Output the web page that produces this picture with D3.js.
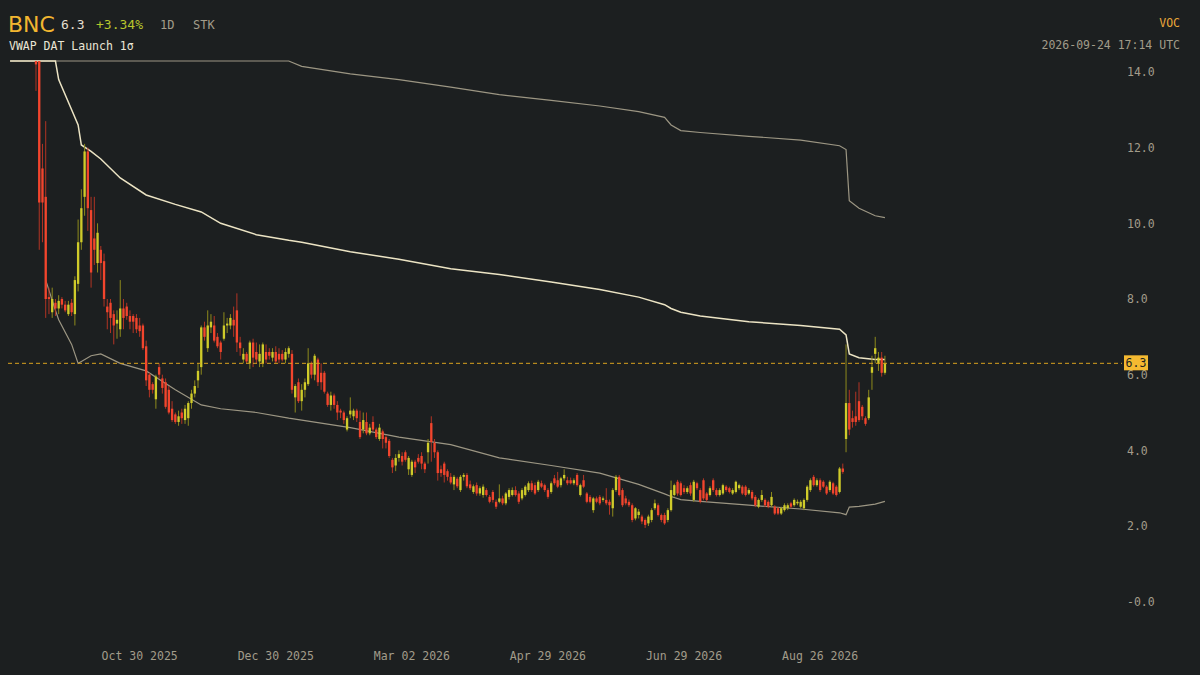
<!DOCTYPE html>
<html>
<head>
<meta charset="utf-8">
<script src="https://cdn.jsdelivr.net/npm/d3@7"></script>
<style>
  body { margin: 0; background: #1c1f20; }
  svg { display: block; font-family: "DejaVu Sans Mono", monospace; }
</style>
</head>
<body>
<svg id="chart" width="1200" height="675"></svg>
<script>
//DATA//
var symbol = "BNC", lastPrice = "6.3", change = "+3.34%", interval = "1D", kind = "STK"
var study = "VWAP DAT Launch 1\u03c3", exchange = "VOC", stamp = "2026-09-24 17:14 UTC"

// [open, high, low, close]
var barsLaunch = [
  [32,35,29,30],[30,31,26,27],[27,28,24,25],[25,26,22,23],[23,24,20,21],[21,22,18.5,19],
  [19,20,17,17.5],[17.5,18,15.5,16],[16,16.5,13.5,14.2],[14.5,15,9.3,10.55],[11.45,12.1,9.5,10.55],
  [10.7,12.7,7.5,8.0],[8.05,8.3,7.6,8.0],[7.65,8.3,7.5,8.0],[7.9,8.0,7.55,7.75],[7.75,8.1,7.6,7.95],
  [8.0,8.05,7.75,7.85],[7.85,7.95,7.65,7.7],[7.6,7.95,7.55,7.85],[7.9,8.0,7.55,7.65],[7.6,8.6,7.3,8.5],
  [8.4,10.1,8.2,9.5],[9.5,10.9,9.3,10.4],[10.7,12.1,10.2,11.9],[11.9,12.0,9.8,10.4],[10.35,10.7,8.3,8.7],
  [9.6,10.7,8.9,9.3],[8.95,10.0,8.7,9.75],[9.3,9.4,8.5,8.95],[9.0,9.2,7.8,8.0],[7.8,8.0,7.2,7.65],
  [7.9,8.0,7.1,7.5],[7.6,7.7,6.8,7.3],[7.35,7.7,6.95,7.45],[7.2,8.5,7.0,7.75],[7.75,8.0,7.2,7.5],
  [7.8,7.9,7.45,7.55],[7.55,7.7,7.2,7.4],[7.55,7.6,7.1,7.4],[7.5,7.6,7.1,7.2],[7.3,7.5,7.0,7.15],
  [7.3,7.35,6.65,6.7],[6.75,6.9,5.7,5.85],[6.0,6.05,5.4,5.6],[5.75,5.8,5.5,5.6],[5.35,6.0,5.1,5.95],
  [6.2,6.3,5.9,6.0],[5.9,6.0,5.5,5.65],[5.8,5.9,5.1,5.15],[5.6,5.7,4.95,5.0],[5.1,5.3,4.75,4.8],
  [4.95,5.0,4.7,4.75],[4.75,5.05,4.65,4.9],[5.0,5.1,4.7,4.85],[4.8,5.2,4.7,5.1],[4.85,5.3,4.65,5.25],
  [5.25,5.6,5.1,5.5],[5.5,5.85,5.4,5.7],[5.85,6.3,5.65,6.1],[6.2,7.3,6.0,7.25],[7.25,7.4,6.9,7.0],
  [6.7,7.7,6.6,7.3],[7.25,7.6,7.1,7.4],[7.3,7.55,6.85,6.9],[7.0,7.1,6.7,6.75],[6.85,6.9,6.4,6.6],
  [6.95,7.65,6.9,7.3],[7.3,7.5,7.1,7.35],[7.3,7.6,7.2,7.5],[7.45,7.8,7.0,7.3],[7.7,8.15,6.6,6.85],
  [6.85,7.0,6.5,6.7],[6.4,6.7,6.3,6.55],[6.55,6.6,6.3,6.35],[6.3,6.9,6.15,6.85],[6.85,6.95,6.2,6.45],
  [6.6,6.85,6.3,6.4],[6.35,6.8,6.2,6.55],[6.3,6.85,6.2,6.8],[6.6,6.8,6.3,6.4],[6.6,6.7,6.4,6.5],
  [6.45,6.7,6.35,6.6],[6.6,6.75,6.3,6.35],[6.55,6.7,6.3,6.4],[6.55,6.65,6.35,6.4],[6.4,6.7,6.3,6.6],
  [6.55,6.75,6.45,6.7],[6.55,6.65,5.5,5.6]
]
var barsSlide = [
  [5.4,5.75,5.0,5.7],[5.8,5.9,5.25,5.3],[5.3,5.75,5.05,5.6],[5.6,5.9,5.4,5.8],[5.75,6.7,5.7,6.3],
  [6.3,6.35,5.9,6.0],[6.0,6.55,5.85,6.5],[6.4,6.45,5.7,5.8],[6.05,6.3,5.6,5.8],[6.05,6.1,5.5,5.55],
  [5.5,5.55,5.15,5.2],[5.2,5.55,5.05,5.45],[5.45,5.5,5.1,5.2],[5.2,5.3,4.8,5.0],[5.05,5.1,4.85,5.0],
  [5.0,5.05,4.7,4.8],[4.55,4.9,4.5,4.85],[4.95,5.4,4.85,5.05],[4.9,5.1,4.8,5.05],[5.05,5.1,4.75,4.85],
  [4.75,5.05,4.3,4.35],[4.55,5.0,4.45,4.8],[4.75,5.0,4.4,4.45],[4.45,4.7,4.4,4.6],[4.75,4.9,4.5,4.55],
  [4.55,4.6,4.3,4.35],[4.3,4.7,4.25,4.6],[4.5,4.55,4.05,4.3],[4.35,4.4,4.05,4.2],[4.25,4.3,3.8,3.85],
  [3.75,3.8,3.4,3.55],[3.6,3.9,3.45,3.8],[3.8,4.0,3.7,3.9],[3.85,3.95,3.6,3.7],[3.95,4.0,3.7,3.75],
  [3.5,3.85,3.35,3.8],[3.35,3.75,3.3,3.7],[3.7,3.75,3.4,3.55],[3.8,3.9,3.65,3.7],[3.85,3.95,3.5,3.65],
  [3.65,3.7,3.4,3.5],[3.95,4.3,3.65,4.2],[4.72,4.9,3.7,4.22],[4.2,4.3,3.8,3.95],[3.95,4.0,3.2,3.4],
  [3.5,3.6,3.3,3.4],[3.65,3.7,3.15,3.35],[3.45,3.5,3.2,3.3],[3.3,3.4,3.1,3.15],[3.1,3.35,2.95,3.3],
  [3.25,3.3,3.0,3.05],[2.95,3.35,2.9,3.3],[3.3,3.4,3.2,3.35],[3.35,3.4,3.0,3.05],[3.1,3.2,2.95,3.0],
  [2.9,3.1,2.85,3.05]
]
var barsBase = [
  [3.08,3.15,2.8,2.86],[2.86,3.05,2.8,3.0],[2.82,3.1,2.75,3.04],[2.95,3.0,2.78,2.82],[2.77,2.82,2.6,2.64],
  [2.9,2.95,2.62,2.69],[2.64,2.7,2.45,2.51],[2.64,3.1,2.6,2.73],[2.73,2.8,2.55,2.6],[2.6,2.9,2.55,2.86],
  [2.77,3.0,2.7,2.95],[2.82,3.02,2.78,2.95],[2.95,3.05,2.78,2.82],[2.86,2.92,2.58,2.64],[2.73,3.0,2.68,2.95],
  [2.82,3.08,2.78,3.04],[2.95,3.18,2.9,3.13],[3.13,3.2,2.9,2.95],[3.08,3.15,2.82,2.86],[2.95,3.22,2.9,3.17],
  [3.13,3.2,3.0,3.04],[3.08,3.12,2.9,2.95],[2.95,3.0,2.72,2.77],[2.9,3.18,2.85,3.13],[3.26,3.35,3.08,3.13],
  [3.21,3.43,3.0,3.04],[3.08,3.3,3.02,3.26],[3.26,3.5,3.2,3.35],[3.21,3.3,3.08,3.13],[3.21,3.28,3.1,3.13],
  [3.13,3.26,3.08,3.21],[3.35,3.4,3.04,3.08],[2.82,3.12,2.78,3.08],[3.21,3.35,3.0,3.04],[2.86,2.9,2.6,2.64],
  [2.77,2.82,2.6,2.64],[2.42,2.77,2.35,2.73],[2.73,2.78,2.6,2.64],[2.77,2.82,2.55,2.6],[2.69,2.78,2.64,2.73],
  [2.69,3.0,2.55,2.6],[2.64,2.7,2.3,2.55],[2.47,3.0,2.25,2.95],[2.95,3.35,2.9,3.3],[3.3,3.35,2.78,2.82],
  [2.95,3.0,2.5,2.55],[2.73,2.8,2.55,2.6],[2.64,2.7,2.5,2.55],[2.55,2.6,2.1,2.16],[2.2,2.5,2.15,2.47],
  [2.29,2.45,2.2,2.38],[2.25,2.3,2.05,2.12],[2.16,2.2,1.95,2.03],[2.07,2.3,2.0,2.25],[2.16,2.47,2.1,2.42],
  [2.47,2.7,2.42,2.6],[2.55,2.6,2.25,2.29],[2.29,2.33,2.1,2.16],[2.29,2.35,2.03,2.07],[2.16,2.47,2.1,2.42],
  [2.42,3.2,2.38,2.95],[2.82,3.12,2.78,3.08],[3.17,3.22,2.8,2.86],[3.13,3.18,2.78,2.82],[3.0,3.08,2.85,2.9],
  [2.9,3.05,2.85,3.0]
]
var barsSummer = [
  [3.08,3.15,2.8,2.86],[2.69,3.22,2.64,3.17],[3.13,3.17,2.95,3.0],[2.95,3.0,2.6,2.64],[3.21,3.26,2.68,2.73],
  [2.86,2.9,2.64,2.69],[2.82,3.05,2.78,3.0],[3.21,3.26,2.9,2.95],[2.95,3.0,2.78,2.82],[2.82,3.0,2.78,2.95],
  [2.86,3.12,2.82,3.08],[3.04,3.08,2.9,2.95],[3.0,3.04,2.86,2.9],[2.86,3.0,2.82,2.95],[2.9,3.2,2.86,3.17],
  [3.0,3.12,2.95,3.08],[3.04,3.08,2.82,2.86],[3.04,3.08,2.78,2.82],[2.86,3.0,2.82,2.95],[2.9,2.95,2.68,2.73],
  [2.77,2.82,2.5,2.55],[2.51,2.73,2.47,2.69],[2.69,2.95,2.64,2.82],[2.69,2.73,2.5,2.55],[2.64,2.68,2.47,2.51],
  [2.55,2.9,2.5,2.77],[2.51,2.55,2.29,2.33],[2.47,2.5,2.29,2.33],[2.33,2.51,2.29,2.47],[2.42,2.6,2.38,2.55],
  [2.47,2.6,2.42,2.55],[2.6,2.64,2.47,2.51],[2.55,2.73,2.51,2.69],[2.6,2.7,2.55,2.64],[2.51,2.69,2.47,2.64],
  [2.47,2.73,2.42,2.69],[2.69,3.08,2.64,3.04],[2.95,3.26,2.9,3.21],[3.3,3.35,3.04,3.08],[3.08,3.26,3.04,3.21],
  [3.21,3.26,2.9,2.95],[3.17,3.21,3.0,3.04],[3.04,3.08,2.82,2.86],[2.95,3.21,2.9,3.17],[3.13,3.17,2.82,2.86],
  [3.04,3.08,2.78,2.82],[2.9,3.56,2.86,3.52],[3.52,3.65,3.38,3.43]
]
var barsBreakout = [
  [4.3,6.8,3.95,5.25],[5.25,5.6,4.4,4.55],[4.85,5.05,4.6,4.75],[4.9,5.55,4.65,4.75],[5.3,5.8,4.75,4.8],
  [5.15,5.2,4.8,4.9],[4.85,4.9,4.65,4.7],[4.85,5.6,4.8,5.4],[6.05,6.5,5.6,6.2],[6.55,7.0,6.3,6.7],
  [6.3,6.6,6.1,6.45],[6.45,6.6,5.95,6.05],[6.05,6.5,6.0,6.3]
]

// band samples: bar index, value (null = not started)
var bandBars = [0,11,14,15,19,21,22,25,28,34,42,51,59,65,76,86,90,105,120,136,151,167,182,194,202,204,207,213,228,244,256,258,259,262,267,270]
var vwap  = [15,15,14.3,13.8,13.0,12.6,12.07,11.9,11.7,11.2,10.75,10.5,10.3,10.0,9.7,9.55,9.5,9.25,9.05,8.8,8.65,8.45,8.25,8.05,7.85,7.75,7.65,7.55,7.4,7.3,7.2,7.05,6.55,6.45,6.4,6.4]
var upper = [15,15,15,15,15,15,15,15,15,15,15,15,15,15,15,14.3,14.15,13.95,13.8,13.6,13.4,13.25,13.1,12.95,12.8,12.6,12.45,12.4,12.3,12.2,12.05,11.95,10.6,10.4,10.2,10.15]
var lower = [null,8.5,7.7,7.45,6.8,6.3,6.35,6.5,6.55,6.3,6.1,5.6,5.2,5.1,5.0,4.85,4.8,4.6,4.35,4.15,3.8,3.6,3.4,3.1,2.85,2.78,2.7,2.65,2.55,2.45,2.35,2.3,2.5,2.52,2.58,2.65]

var priceTicks = [0,2,4,6,8,10,12,14]
var priceLabels = ["-0.0","2.0","4.0","6.0","8.0","10.0","12.0","14.0"]
// session index of each date label
var dateTickBars = [40,82,124,166,208,250]
var dateLabels = ["Oct 30 2025","Dec 30 2025","Mar 02 2026","Apr 29 2026","Jun 29 2026","Aug 26 2026"]

//BUILD//
var bars = [].concat(barsLaunch, barsSlide, barsBase, barsSummer, barsBreakout)
  .map((b, i) => ({ i: i, o: b[0], h: b[1], l: b[2], c: b[3] }))
var N = bars.length

var svg = d3.select("#chart")
var W = 1200, H = 675
var plotL = 8, plotR = 887, plotT = 61

var x = d3.scaleBand().domain(d3.range(N)).range([plotL, plotR]).padding(0.28)
var cx = i => x(i) + x.bandwidth() / 2
var y = d3.scaleLinear().domain([0, 14.29]).range([601.7, plotT]).clamp(true)

var upCol = "#cfcb2a", upWick = "#8d8a1c", dnCol = "#f2452d", dnWick = "#b23424"
var gray = "#a29c8a"

// price axis (labels only)
var yAxis = d3.axisRight(y).tickValues(priceTicks).tickFormat((d, i) => priceLabels[i]).tickSize(0)
svg.append("g").attr("transform", "translate(1127,0)").call(yAxis)
  .call(g => g.select(".domain").remove())
  .selectAll("text").attr("x", 0).attr("fill", gray).style("font-size", "11.5px")
  .style("font-family", "DejaVu Sans Mono")

// date axis
svg.append("g").selectAll("text").data(dateTickBars).join("text")
  .attr("x", k => cx(k)).attr("y", 660).attr("text-anchor", "middle")
  .attr("fill", gray).style("font-size", "11.5px")
  .text((k, i) => dateLabels[i])

// bands
var line = (vals) => d3.line()
  .defined((d, i) => vals[i] != null)
  .x((d) => cx(d)).y((d, i) => y(vals[i]))(bandBars)

svg.append("path").attr("d", line(upper)).attr("fill", "none").attr("stroke", "#9c9683").attr("stroke-width", 1.2)
svg.append("path").attr("d", line(lower)).attr("fill", "none").attr("stroke", "#9c9683").attr("stroke-width", 1.2)
svg.append("path").attr("d", line(vwap)).attr("fill", "none").attr("stroke", "#ece4c4").attr("stroke-width", 1.5)

// candles
var vis = bars.filter(d => d.l < 14.29)
var cg = svg.append("g")
cg.selectAll("line").data(vis).join("line")
  .attr("x1", d => cx(d.i)).attr("x2", d => cx(d.i))
  .attr("y1", d => y(d.h)).attr("y2", d => y(d.l))
  .attr("stroke", d => d.c >= d.o ? upWick : dnWick).attr("stroke-width", 1)
cg.selectAll("rect").data(vis).join("rect")
  .attr("x", d => x(d.i)).attr("width", x.bandwidth())
  .attr("y", d => y(Math.max(d.o, d.c)))
  .attr("height", d => Math.max(1, y(Math.min(d.o, d.c)) - y(Math.max(d.o, d.c))))
  .attr("fill", d => d.c >= d.o ? upCol : dnCol)

// last price line + tag
var lp = bars[N - 1].c
svg.append("line").attr("x1", plotL).attr("x2", 1122).attr("y1", y(lp)).attr("y2", y(lp))
  .attr("stroke", "#d9a21e").attr("stroke-width", 1).attr("stroke-dasharray", "4,3")
svg.append("rect").attr("x", 1124).attr("y", y(lp) - 8).attr("width", 24).attr("height", 15).attr("fill", "#f4b931")
svg.append("text").attr("x", 1136).attr("y", y(lp) + 3.5).attr("text-anchor", "middle")
  .attr("fill", "#1c1f20").style("font-size", "11.5px").text(lastPrice)

// header
var hd = svg.append("g")
hd.append("text").attr("x", 8).attr("y", 32).attr("fill", "#f2b630").style("font-size", "22px")
  .style("font-family", "DejaVu Sans").text(symbol)
hd.append("text").attr("x", 61).attr("y", 29).attr("fill", "#e4dfcf").style("font-size", "13px").text(lastPrice)
hd.append("text").attr("x", 96).attr("y", 29).attr("fill", "#b7c52c").style("font-size", "13px").text(change)
hd.append("text").attr("x", 160).attr("y", 29).attr("fill", gray).style("font-size", "12px").text(interval)
hd.append("text").attr("x", 193).attr("y", 29).attr("fill", gray).style("font-size", "12px").text(kind)
hd.append("text").attr("x", 9).attr("y", 50).attr("fill", "#ebe6d6").style("font-size", "11.5px").text(study)
hd.append("text").attr("x", 1180).attr("y", 27).attr("text-anchor", "end").attr("fill", "#eaa83a").style("font-size", "11.5px").text(exchange)
hd.append("text").attr("x", 1180).attr("y", 49).attr("text-anchor", "end").attr("fill", gray).style("font-size", "11.5px").text(stamp)
</script>
</body>
</html>
